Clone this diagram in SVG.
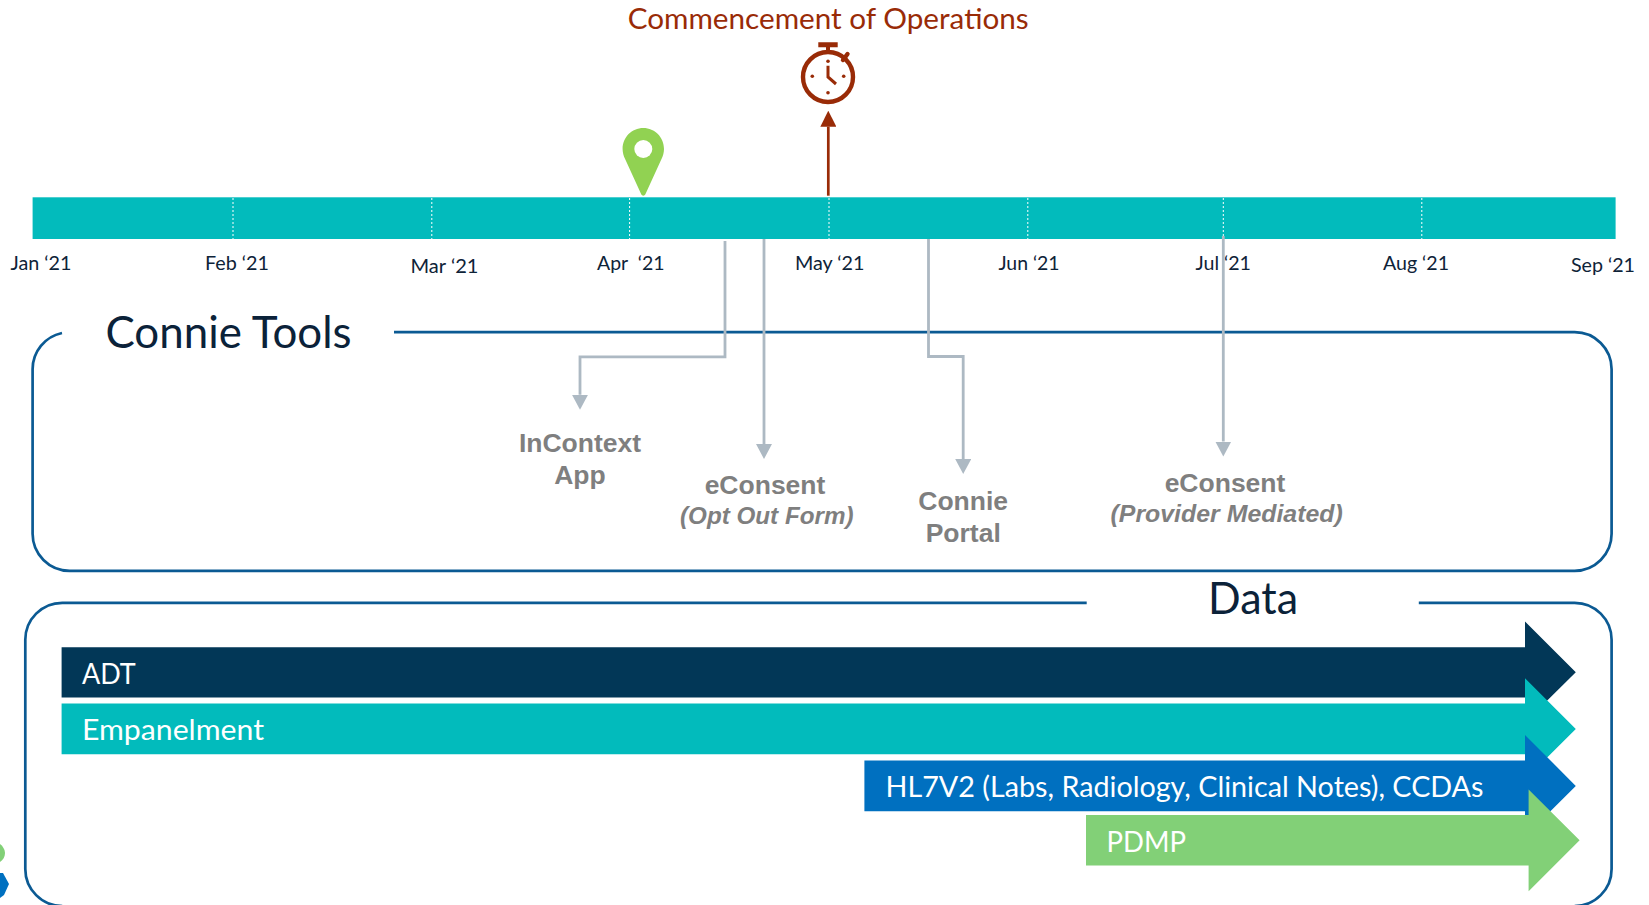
<svg xmlns="http://www.w3.org/2000/svg" width="1649" height="905" viewBox="0 0 1649 905">
<style>
text{font-family:Lato,"Open Sans",sans-serif}
.m{font-size:19.5px;fill:#0e2338}
.h{font-size:44px;fill:#0b2239}
.b{font-size:28.5px;fill:#fff}
.g{font-family:"Liberation Sans",Arial,sans-serif;font-weight:bold;font-size:26.5px;fill:#7f7f7f;text-anchor:middle}
.i{font-family:"Liberation Sans",Arial,sans-serif;font-weight:bold;font-style:italic;font-size:24.2px;fill:#7f7f7f}
.frame{fill:none;stroke:#0b5a93;stroke-width:2.7}
.conn{fill:none;stroke:#adb9c3;stroke-width:2.8}
.tick{stroke:#fff;stroke-width:1;stroke-dasharray:2 2}
.sw{fill:none;stroke:#992b07}
.dot{fill:#992b07}
</style>
<defs>
<marker id="gh" markerUnits="userSpaceOnUse" markerWidth="15" markerHeight="16" refX="0" refY="8" orient="auto"><path d="M0 0L15 8L0 16Z" fill="#adb9c3"/></marker>
<marker id="rh" markerUnits="userSpaceOnUse" markerWidth="16" markerHeight="16" refX="0" refY="8" orient="auto"><path d="M0 0L16 8L0 16Z" fill="#992b07"/></marker>
</defs>

<g id="timeline">
<rect x="32.6" y="197.3" width="1583" height="41.7" fill="#02bbbc"/>
<path class="tick" d="M233 198V239M431.8 198V239M629.6 198V239M829 198V239M1027.8 198V239M1223.3 198V239M1421.8 198V239"/>
<text class="m" x="10.5" y="270.3" textLength="61" lengthAdjust="spacingAndGlyphs">Jan ‘21</text>
<text class="m" x="205" y="270.3" textLength="64" lengthAdjust="spacingAndGlyphs">Feb ‘21</text>
<text class="m" x="410.5" y="273.3" textLength="68" lengthAdjust="spacingAndGlyphs">Mar ‘21</text>
<text class="m" x="597" y="270.3" textLength="67.5" lengthAdjust="spacingAndGlyphs" xml:space="preserve">Apr  ‘21</text>
<text class="m" x="795" y="270.3" textLength="69.5" lengthAdjust="spacingAndGlyphs">May ‘21</text>
<text class="m" x="998.4" y="270.3" textLength="61.2" lengthAdjust="spacingAndGlyphs">Jun ‘21</text>
<text class="m" x="1195.5" y="270.3" textLength="55.5" lengthAdjust="spacingAndGlyphs">Jul ‘21</text>
<text class="m" x="1383" y="270.3" textLength="66" lengthAdjust="spacingAndGlyphs">Aug ‘21</text>
<text class="m" x="1571" y="272.3" textLength="64" lengthAdjust="spacingAndGlyphs">Sep ‘21</text>
</g>

<g id="commencement">
<text x="627.7" y="29" font-size="29" fill="#992b07" textLength="401" lengthAdjust="spacingAndGlyphs">Commencement of Operations</text>
<circle class="sw" cx="828" cy="77" r="25" stroke-width="4.4"/>
<path d="M818.3 42.3H837.7V47.3H830V53H826V47.3H818.3Z" class="dot"/>
<path class="sw" d="M843 60L847.5 54" stroke-width="4.4" stroke-linecap="round"/>
<path class="sw" d="M828 65.7V77L836 84" stroke-width="3"/>
<circle class="dot" cx="828" cy="61.3" r="1.8"/><circle class="dot" cx="843.7" cy="76.3" r="1.8"/><circle class="dot" cx="828" cy="92.7" r="1.8"/><circle class="dot" cx="812.3" cy="76.3" r="1.8"/>
</g>

<g id="pin">
<path d="M643.3 128C654.8 128 664 137.3 664 149C664 152.5 663 156 661.5 159L645.5 194C644.5 196.2 642.1 196.2 641.1 194L625.1 159C623.6 156 622.6 152.5 622.6 149C622.6 137.3 631.8 128 643.3 128Z" fill="#91d252"/>
<circle cx="643.3" cy="149" r="9" fill="#fff"/>
</g>

<g id="connie-tools">
<path class="frame" d="M394 332.2H1574.6A37 37 0 0 1 1611.6 369.2V533.8A37 37 0 0 1 1574.6 570.8H69.6A37 37 0 0 1 32.6 533.8V369.2A37 37 0 0 1 62 333"/>
<text class="h" x="105.5" y="347.6" textLength="246" lengthAdjust="spacingAndGlyphs">Connie Tools</text>
</g>

<g id="connectors">
<path class="conn" d="M725 241V356.8H580V394.8" marker-end="url(#gh)"/>
<path class="conn" d="M764 239V444" marker-end="url(#gh)"/>
<path class="conn" d="M928.5 239V356.5H963.2V459" marker-end="url(#gh)"/>
<path class="conn" d="M1223.3 236V441.5" marker-end="url(#gh)"/>
<path d="M828.3 195.7V126.7" fill="none" stroke="#992b07" stroke-width="2.7" marker-end="url(#rh)"/>
</g>

<g id="incontext-app">
<text class="g" x="580" y="452">InContext</text>
<text class="g" x="580" y="484.3">App</text>
</g>
<g id="econsent-opt-out">
<text class="g" x="765" y="494.3">eConsent</text>
<text class="i" x="680" y="524.2" textLength="173.5" lengthAdjust="spacingAndGlyphs">(Opt Out Form)</text>
</g>
<g id="connie-portal">
<text class="g" x="963.2" y="510.2">Connie</text>
<text class="g" x="963.2" y="542">Portal</text>
</g>
<g id="econsent-provider">
<text class="g" x="1225" y="492">eConsent</text>
<text class="i" x="1110.5" y="521.5" textLength="232.3" lengthAdjust="spacingAndGlyphs">(Provider Mediated)</text>
</g>

<g id="data">
<path class="frame" d="M1086.7 602.8H62.3A37 37 0 0 0 25.3 639.8V869A37 37 0 0 0 62.3 906M1418.8 602.8H1574.6A37 37 0 0 1 1611.6 639.8V869A37 37 0 0 1 1574.6 906"/>
<text class="h" x="1208" y="613.5" textLength="90" lengthAdjust="spacingAndGlyphs">Data</text>
</g>

<g id="adt">
<path d="M61.6 647.3H1525V621.5L1575.8 672.3L1525 722.6V697.6H61.6Z" fill="#023757"/>
<text class="b" x="82" y="683.5" textLength="53.8" lengthAdjust="spacingAndGlyphs">ADT</text>
</g>
<g id="empanelment">
<path d="M61.6 703.6H1525V678.3L1575.8 728.9L1525 779.6V754.3H61.6Z" fill="#02bbbc"/>
<text class="b" x="82" y="739.5" textLength="182" lengthAdjust="spacingAndGlyphs">Empanelment</text>
</g>
<g id="hl7v2">
<path d="M864.4 760.6H1525V734.9L1575.8 785.9L1525 836.6V811.3H864.4Z" fill="#0070c0"/>
<text class="b" x="885.5" y="796.5" textLength="598" lengthAdjust="spacingAndGlyphs">HL7V2 (Labs, Radiology, Clinical Notes), CCDAs</text>
</g>
<g id="pdmp">
<path d="M1086 814.9H1528.6V789.6L1579.6 840.3L1528.6 891.3V865.6H1086Z" fill="#82d077"/>
<text class="b" x="1106.5" y="851.5" textLength="79.5" lengthAdjust="spacingAndGlyphs">PDMP</text>
</g>

<g id="edge-fragments">
<path d="M0 844C3 846 5 850 5 853C5 857 3 860 0 862Z" fill="#82d077"/>
<path d="M0 873L3 873L9 884L4 895L0 898Z" fill="#0070c0"/>
</g>
</svg>
